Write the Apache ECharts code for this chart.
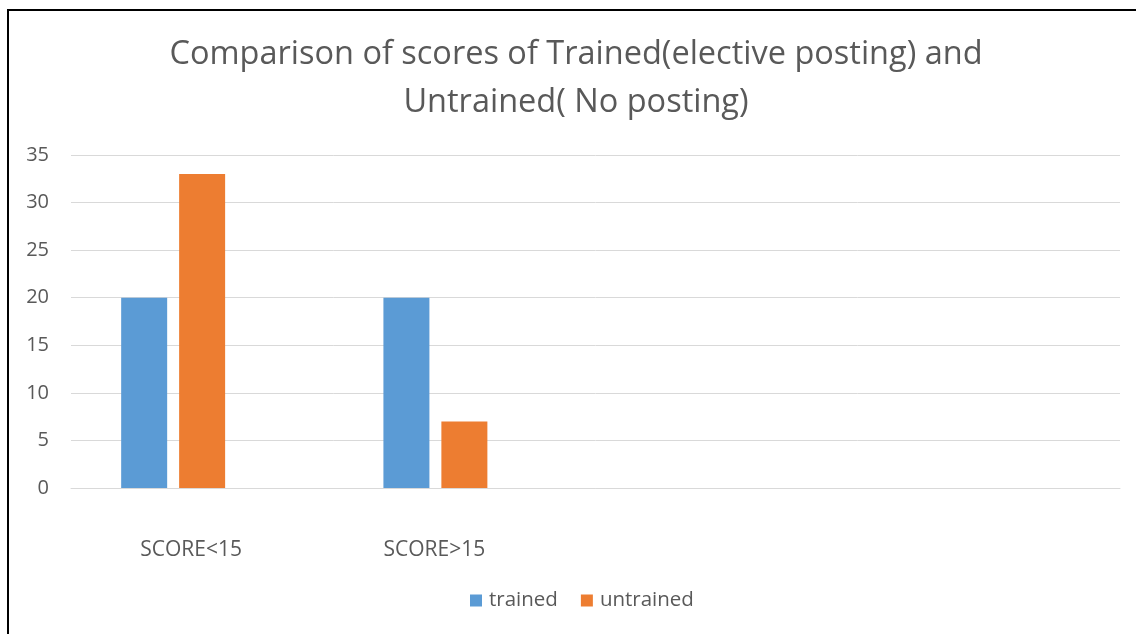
<!DOCTYPE html>
<html>
<head>
<meta charset="utf-8">
<script src="https://cdn.jsdelivr.net/npm/echarts@6/dist/echarts.min.js"></script>
<style>
    html, body { margin: 0; padding: 0; background: #fff; }
    #wrap { position: relative; width: 1136px; height: 634px; }
    #chart { width: 1136px; height: 634px; }
    /* frame seen at top and left of the original */
    #frame {
        position: absolute; left: 7px; top: 9px; right: 0; bottom: 0;
        border-top: 2px solid #000; border-left: 2px solid #000;
        pointer-events: none;
    }
</style>
</head>
<body>
<div id="wrap">
    <div id="chart"></div>
    <div id="frame"></div>
</div>
<script>
// data
const categories = ['SCORE<15', 'SCORE>15', '', ''];
const trained = [20, 20, null, null];
const untrained = [33, 7, null, null];
const emptySeries = [null, null, null, null]; // third empty series in the source sheet

const font = 'Open Sans';
const grey = '#595959';
const chart = echarts.init(document.getElementById('chart'));

chart.setOption({
    animation: false,
    title: {
        text: 'Comparison of scores of Trained(elective posting) and\nUntrained( No posting)',
        left: 571,          // centre of the title in the original
        textAlign: 'center',
        top: 26,
        textStyle: {
            fontFamily: font,
            fontWeight: 'normal',
            fontSize: 32.5,
            lineHeight: 48,
            color: grey
        }
    },
    legend: {
        data: ['trained', 'untrained'],
        bottom: 18,
        left: 465,
        icon: 'rect',
        itemWidth: 12,
        itemHeight: 12,
        itemGap: 23,
        textStyle: { fontFamily: font, fontSize: 20.5, color: grey, padding: [0, 0, 0, 2] }
    },
    grid: { left: 71, right: 16, top: 155, bottom: 146 },
    xAxis: {
        type: 'category',
        data: categories,
        axisLine: { show: true, lineStyle: { color: '#d9d9d9' } },
        axisTick: { show: false },
        axisLabel: {
            margin: 52,
            // labels in the original sit a bit left of the category centre
            formatter: (v, i) => (i === 0 ? '{a|' + v + '}' : '{b|' + v + '}'),
            rich: {
                a: { fontFamily: font, fontSize: 21, color: grey, padding: [0, 22, 0, 0] },
                b: { fontFamily: font, fontSize: 21, color: grey, padding: [0, 60, 0, 0] }
            }
        }
    },
    yAxis: {
        type: 'value',
        min: 0,
        max: 35,
        interval: 5,
        axisLine: { show: false },
        axisTick: { show: false },
        splitLine: { lineStyle: { color: '#d9d9d9' } },
        axisLabel: { margin: 22, fontFamily: font, fontSize: 20, color: grey }
    },
    series: [
        { name: 'trained', type: 'bar', data: trained, barWidth: 46, barGap: '26%', itemStyle: { color: '#5b9bd5' } },
        { name: 'untrained', type: 'bar', data: untrained, barWidth: 46, barGap: '26%', itemStyle: { color: '#ed7d31' } },
        { name: 'blank', type: 'bar', data: emptySeries, barWidth: 46, barGap: '26%' }
    ]
});
</script>
</body>
</html>
